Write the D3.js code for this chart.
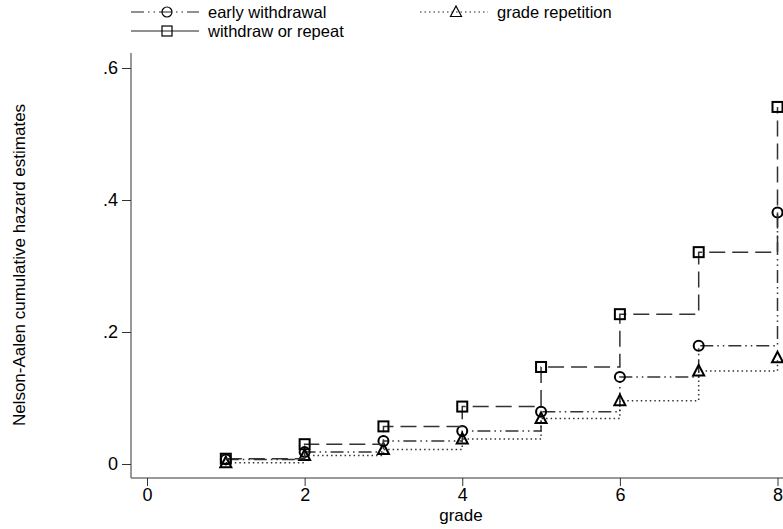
<!DOCTYPE html>
<html>
<head>
<meta charset="utf-8">
<script src="https://cdn.jsdelivr.net/npm/d3@7"></script>
<style>
body { margin: 0; background: #fff; }
text { font-family: "Liberation Sans", Arial, sans-serif; }
</style>
</head>
<body>
<script>
var grades = [1, 2, 3, 4, 5, 6, 7, 8];
var earlyWithdrawal = [0.007, 0.018, 0.035, 0.050, 0.079, 0.132, 0.179, 0.381];
var gradeRepetition = [0.002, 0.013, 0.022, 0.038, 0.069, 0.096, 0.141, 0.161];
var withdrawOrRepeat = [0.008, 0.030, 0.057, 0.087, 0.147, 0.227, 0.321, 0.541];
var xTicks = [0, 2, 4, 6, 8];
var yTicks = [0, 0.2, 0.4, 0.6];

var series = [
  {label: "early withdrawal", values: earlyWithdrawal, marker: "circle", dash: "13,4,1.5,4,1.5,4"},
  {label: "grade repetition", values: gradeRepetition, marker: "triangle", dash: "1.5,3"},
  {label: "withdraw or repeat", values: withdrawOrRepeat, marker: "square", dash: "16,7"}
];

var svg = d3.select("body").append("svg").attr("width", 783).attr("height", 529);

var x = d3.scaleLinear().domain([0, 8]).range([147, 777.5]);
var y = d3.scaleLinear().domain([0, 0.6]).range([464, 68]);
var font = "Liberation Sans, Arial, sans-serif";

//axes
var axisColor = "#777";
svg.append("line").attr("x1", 131).attr("x2", 131).attr("y1", 53).attr("y2", 478)
  .attr("stroke", axisColor).attr("stroke-width", 1.5);
svg.append("line").attr("x1", 131).attr("x2", 783).attr("y1", 478).attr("y2", 478)
  .attr("stroke", axisColor).attr("stroke-width", 1.5);

var yAxis = svg.append("g").attr("transform", "translate(131,0)")
  .call(d3.axisLeft(y).tickValues(yTicks).tickSize(9).tickPadding(4)
    .tickFormat(function(d){ return d === 0 ? "0" : d3.format(".1f")(d).replace(/^0/, ""); }));
yAxis.select(".domain").remove();
yAxis.selectAll("line").attr("stroke", "#333");
yAxis.selectAll("text").attr("font-size", 18).attr("fill", "#000").attr("font-family", font);

var xAxis = svg.append("g").attr("transform", "translate(0,478)")
  .call(d3.axisBottom(x).tickValues(xTicks).tickSize(8).tickPadding(2).tickFormat(d3.format("d")));
xAxis.select(".domain").remove();
xAxis.selectAll("line").attr("stroke", "#333");
xAxis.selectAll("text").attr("font-size", 18).attr("fill", "#000").attr("font-family", font);

svg.append("text").attr("x", 461).attr("y", 521).attr("text-anchor", "middle")
  .attr("font-size", 17).text("grade");
svg.append("text").attr("transform", "translate(25,265) rotate(-90)").attr("text-anchor", "middle")
  .attr("font-size", 17).text("Nelson-Aalen cumulative hazard estimates");

//markers
function drawMarker(g, type, cx, cy, sw){
  if(type === "circle"){
    g.append("circle").attr("cx", cx).attr("cy", cy).attr("r", 5)
      .attr("fill", "none").attr("stroke", "#000").attr("stroke-width", sw);
  } else if(type === "square"){
    g.append("rect").attr("x", cx - 5).attr("y", cy - 5).attr("width", 10).attr("height", 10)
      .attr("fill", "none").attr("stroke", "#000").attr("stroke-width", sw);
  } else {
    g.append("path").attr("d", "M" + cx + "," + (cy - 6) + "L" + (cx + 5.5) + "," + (cy + 4.5) + "L" + (cx - 5.5) + "," + (cy + 4.5) + "Z")
      .attr("fill", "none").attr("stroke", "#000").attr("stroke-width", sw);
  }
}

var line = d3.line().x(function(d){ return x(d[0]); }).y(function(d){ return y(d[1]); }).curve(d3.curveStepAfter);

series.forEach(function(s){
  var pts = grades.map(function(g, i){ return [g, s.values[i]]; });
  var g = svg.append("g");
  g.append("path").attr("d", line(pts)).attr("fill", "none")
    .attr("stroke", "#333").attr("stroke-width", 1.5).attr("stroke-dasharray", s.dash);
  pts.forEach(function(p){ drawMarker(g, s.marker, x(p[0]), y(p[1]), 2); });
});

//legend
var legendPos = [
  {x: 131, y: 12},
  {x: 420, y: 12},
  {x: 131, y: 31}
];
series.forEach(function(s, i){
  var p = legendPos[i];
  var g = svg.append("g");
  g.append("line").attr("x1", p.x).attr("x2", p.x + 68).attr("y1", p.y).attr("y2", p.y)
    .attr("stroke", "#222").attr("stroke-width", 1.2)
    .attr("stroke-dasharray", s.marker === "square" ? null : s.dash);
  drawMarker(g, s.marker, p.x + 36, p.y, 1.2);
  g.append("text").attr("x", p.x + 77).attr("y", p.y + 5.5).attr("font-size", 16.5).text(s.label);
});
</script>
</body>
</html>
